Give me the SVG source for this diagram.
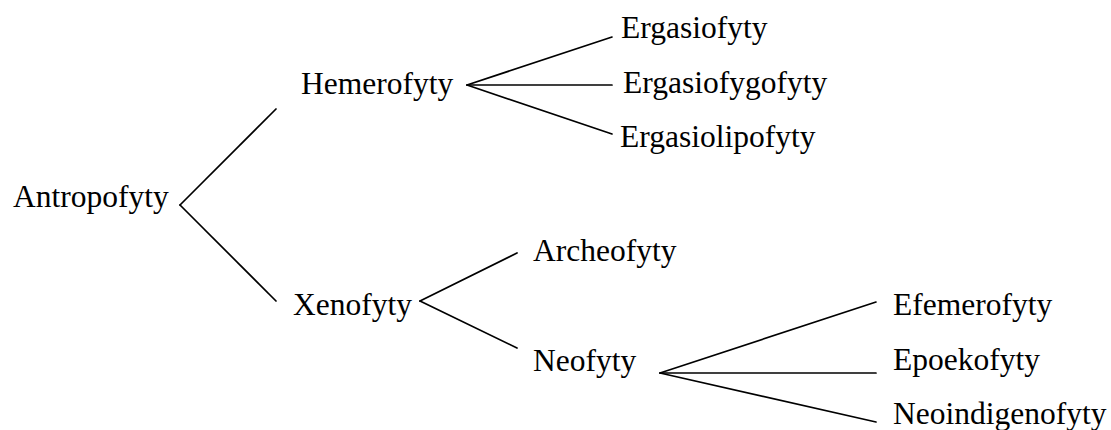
<svg xmlns="http://www.w3.org/2000/svg" width="1111" height="430" viewBox="0 0 1111 430">
<style>
text{font-family:"Liberation Serif","Times New Roman",serif;font-size:31.5px;fill:#000}
.c line{stroke:#000;stroke-width:1.7;stroke-linecap:round}
</style>
<rect width="1111" height="430" fill="#fff"/>
<g class="c" id="connectors">
<line x1="180" y1="205" x2="276" y2="109"/>
<line x1="180" y1="205" x2="276" y2="301"/>
<line x1="467" y1="85" x2="612" y2="37"/>
<line x1="467" y1="85" x2="612" y2="85"/>
<line x1="467" y1="85" x2="612" y2="134"/>
<line x1="420" y1="301" x2="517" y2="253"/>
<line x1="420" y1="301" x2="517" y2="348"/>
<line x1="660" y1="373" x2="876" y2="302"/>
<line x1="660" y1="373" x2="876" y2="373"/>
<line x1="660" y1="373" x2="876" y2="422"/>
</g>
<g id="antropofyty"><text x="13" y="207">Antropofyty</text></g>
<g id="hemerofyty"><text x="301" y="94">Hemerofyty</text></g>
<g id="ergasiofyty"><text x="621" y="38">Ergasiofyty</text></g>
<g id="ergasiofygofyty"><text x="623" y="93">Ergasiofygofyty</text></g>
<g id="ergasiolipofyty"><text x="620" y="147">Ergasiolipofyty</text></g>
<g id="xenofyty"><text x="293" y="315">Xenofyty</text></g>
<g id="archeofyty"><text x="533" y="261">Archeofyty</text></g>
<g id="neofyty"><text x="533" y="371">Neofyty</text></g>
<g id="efemerofyty"><text x="893" y="315">Efemerofyty</text></g>
<g id="epoekofyty"><text x="893" y="370">Epoekofyty</text></g>
<g id="neoindigenofyty"><text x="893" y="424">Neoindigenofyty</text></g>
</svg>
